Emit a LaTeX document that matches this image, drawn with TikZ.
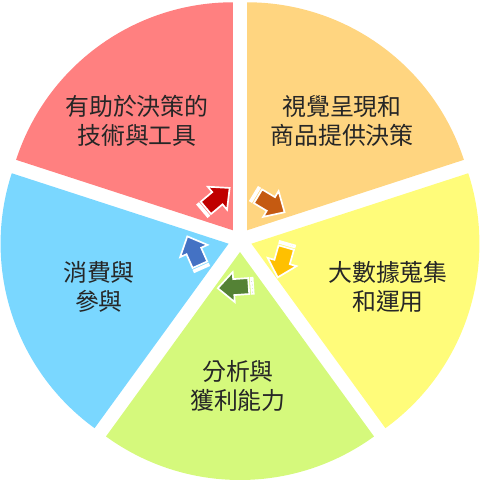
\documentclass[tikz,border=0pt]{standalone}
\usepackage{fontspec}
\newfontfamily\cjk{Noto Sans CJK TC}
\definecolor{sred}{RGB}{255,128,128}
\definecolor{sorange}{RGB}{255,213,128}
\definecolor{syellow}{RGB}{255,252,122}
\definecolor{sgreen}{RGB}{213,249,124}
\definecolor{sblue}{RGB}{122,215,255}
\definecolor{ared}{RGB}{192,0,0}
\definecolor{aorange}{RGB}{197,90,17}
\definecolor{ayellow}{RGB}{255,192,0}
\definecolor{agreen}{RGB}{84,130,53}
\definecolor{ablue}{RGB}{68,114,196}
\definecolor{textgray}{RGB}{38,38,38}
\tikzset{sectortext/.style={font=\cjk\fontsize{17}{21}\selectfont, text=textgray, align=center},
%arrow body with white rim
striped/.style={fill=#1, draw=white, line width=1.2pt, line join=miter}}

\begin{document}
\begin{tikzpicture}[x=0.025cm, y=0.025cm]
        \useasboundingbox (-240,-240) rectangle (240,240);

        % sectors
        \foreach \b/\c in {126/sred, 54/sorange, -18/syellow, -90/sgreen, 198/sblue}{
            \fill[\c] (\b:12) -- ++({\b-36}:228) arc[start angle={\b-36}, end angle={\b+36}, radius=228] -- cycle;
        }

        % arrows
        \foreach \a/\d/\c in {122/40/ared, 53/-31/aorange, -24/-106/ayellow, -94/-176/agreen, 197/114/ablue}{
            \begin{scope}[shift={(\a:47)}, rotate=\d]
                \draw[striped=\c] (19,0) -- (3,15) -- (3,8) -- (-12,8) -- (-12,-8) -- (3,-8) -- (3,-15) -- cycle;
                \draw[striped=\c] (-16.5,8) rectangle (-14.5,-8);
            \end{scope}
        }

        % texts
        \node[sectortext] (tools) at (-103,119) {有助於決策的\\技術與工具};
        \node[sectortext] (visual) at (102,119) {視覺呈現和\\商品提供決策};
        \node[sectortext] (bigdata) at (148,-47) {大數據蒐集\\和運用};
        \node[sectortext] (profit) at (-2,-146) {分析與\\獲利能力};
        \node[sectortext] (consumer) at (-141,-47) {消費與\\參與};

    \end{tikzpicture}
\end{document}
